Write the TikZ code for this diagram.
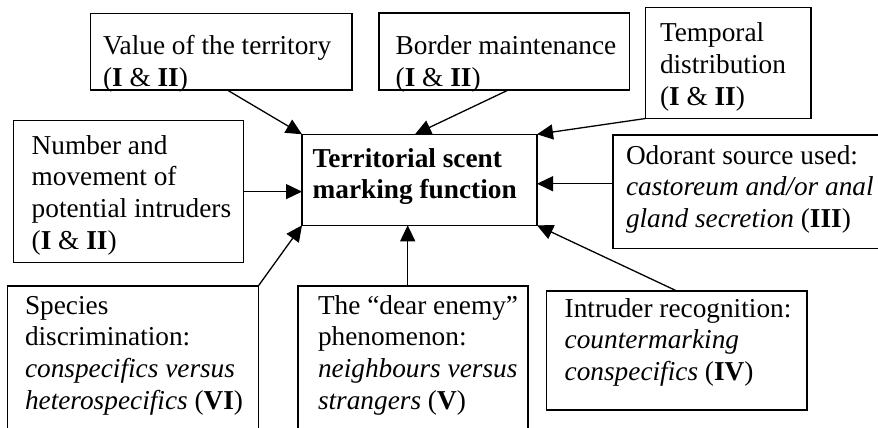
\documentclass[tikz,border=0pt]{standalone}
\usepackage{fontspec}
\setmainfont{Liberation Serif}
\usetikzlibrary{arrows.meta}

% first-line-aligned multi-line text block
\newcommand{\boxlines}[1]{\parbox[t]{330pt}{\raggedright #1}}

\tikzset{
  frame/.style={draw, line width=1.3pt, inner sep=0pt, outer sep=0pt},
  label/.style={anchor=base west, inner sep=0pt, outer sep=0pt,
                font=\fontsize{27.3}{31.8}\selectfont},
  link/.style={line width=1.3pt, -{Triangle[length=16pt,width=15pt]}},
}

\begin{document}
\begin{tikzpicture}[x=1pt,y=-1pt]
\useasboundingbox (0,0) rectangle (878,428);
\clip (0,0) rectangle (878,428);

% boxes (centre, size)
\node[frame, minimum width=261.3pt, minimum height=76.7pt]  (val) at (221.3,51.7)  {};
\node[frame, minimum width=250.5pt, minimum height=77pt]    (bor) at (504.3,51.5)  {};
\node[frame, minimum width=165.5pt, minimum height=111.2pt] (tem) at (728.3,62.9)  {};
\node[frame, minimum width=230pt,   minimum height=141.8pt] (num) at (128.3,191.6) {};
\node[frame, minimum width=235pt,   minimum height=91pt]    (cen) at (419.5,179.8) {};
\node[frame, minimum width=267pt,   minimum height=113.5pt] (odo) at (746.5,191.75){};
\node[frame, minimum width=251pt,   minimum height=154pt]   (spe) at (132.8,363)   {};
\node[frame, minimum width=230pt,   minimum height=154pt]   (dea) at (413,363)     {};
\node[frame, minimum width=260.3pt, minimum height=119pt]   (int) at (676.85,350.5){};

% texts
\node[label] (valt) at (103,55)    {\boxlines{Value of the territory\\(\textbf{I} \& \textbf{II})}};
\node[label] (bort) at (395.7,55)  {\boxlines{Border maintenance\\(\textbf{I} \& \textbf{II})}};
\node[label] (temt) at (660,41.5)  {\boxlines{Temporal\\distribution\\(\textbf{I} \& \textbf{II})}};
\node[label] (numt) at (31.7,154)  {\boxlines{Number and\\movement of\\potential intruders\\(\textbf{I} \& \textbf{II})}};
\node[label] (cent) at (312.7,167) {\boxlines{\textbf{Territorial scent}\\\textbf{marking function}}};
\node[label] (odot) at (626,164)   {\boxlines{Odorant source used:\\\textit{castoreum and/or anal}\\\textit{gland secretion} (\textbf{III})}};
\node[label] (spet) at (25,314)    {\boxlines{Species\\discrimination:\\\textit{conspecifics versus}\\\textit{heterospecifics} (\textbf{VI})}};
\node[label] (deat) at (318,314)   {\boxlines{The ``dear enemy''\\phenomenon:\\\textit{neighbours versus}\\\textit{strangers} (\textbf{V})}};
\node[label] (intt) at (564.7,317) {\boxlines{Intruder recognition:\\\textit{countermarking}\\\textit{conspecifics} (\textbf{IV})}};

% connectors into the central box
\draw[link] ([xshift=6pt]val.south) -- (cen.north west);
\draw[link] ([xshift=4pt]bor.south) -- ([xshift=-4.5pt]cen.north);
\draw[link] (tem.south west) -- (cen.north east);
\draw[link] (num.east) -- (num.east -| cen.west);
\draw[link] ([yshift=8pt]odo.west) -- ([yshift=8pt]odo.west -| cen.east);
\draw[link] (spe.north east) -- (cen.south west);
\draw[link] ([xshift=-5.3pt]dea.north) -- ([xshift=-5.3pt]dea.north |- cen.south);
\draw[link] (int.north) -- (cen.south east);
\end{tikzpicture}
\end{document}
